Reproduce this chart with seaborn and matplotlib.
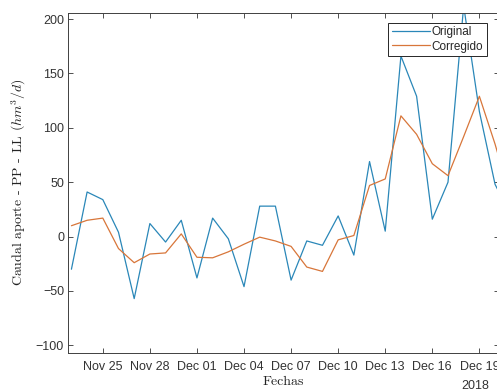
import matplotlib
matplotlib.use("Agg")
import pandas as pd
import seaborn as sns
import matplotlib.pyplot as plt
import matplotlib.dates as mdates

# daily flow values (Nov 23 2018 onwards)
fechas = pd.date_range("2018-11-23", periods=29, freq="D")
original = [-30, 41, 34, 4, -57, 12, -5, 15, -38, 17, -2, -46, 28, 28, -40,
            -4, -8, 19, -17, 69, 5, 166, 129, 16, 50, 212, 115, 48, 20]
corregido = [10, 15, 17, -11, -24, -16, -15, 2.5, -19, -19.5, -14, -7, -0.5,
             -4, -9, -28, -32, -3, 1, 47, 53, 111, 94, 67, 56, 92, 129, 85, 35]
series = ["Original", "Corregido"]
colores = {"Original": "#2a87b8", "Corregido": "#d8763a"}

xticks = pd.date_range("2018-11-25", "2018-12-19", freq="3D")
yticks = [-100, -50, 0, 50, 100, 150, 200]

n = len(fechas)
df = pd.DataFrame({
    "fecha": list(fechas) * 2,
    "caudal": original + corregido,
    "serie": [series[0]] * n + [series[1]] * n,
})

sns.set_theme(style="ticks")
plt.rcParams['font.family'] = ['Liberation Sans', 'DejaVu Sans']
plt.rcParams['mathtext.fontset'] = 'cm'

fig = plt.figure(figsize=(4.97, 3.92), dpi=100)
# axes run past the right edge, like the cropped original
ax = fig.add_axes([0.1374, 0.0995, 0.8666, 0.8686])

sns.lineplot(data=df, x="fecha", y="caudal", hue="serie", hue_order=series,
             palette=colores, linewidth=0.9, ax=ax)

ax.set_xlim(fechas[0] - pd.Timedelta(hours=4.8), fechas[0] + pd.Timedelta(days=27.25))
ax.set_ylim(-107, 206)
ax.set_xticks(xticks)
ax.xaxis.set_major_formatter(mdates.DateFormatter("%b %d"))
ax.set_yticks(yticks)

tick_col = "#333333"
ax.tick_params(direction="in", top=True, right=True, length=3.5, width=0.6,
               labelsize=9, colors=tick_col)
ax.tick_params(axis="x", pad=6)
ax.tick_params(axis="y", pad=3)
for s in ax.spines.values():
    s.set_color("#404040")
    s.set_linewidth(0.7)

ax.set_xlabel("Fechas", fontfamily="cmr10", fontsize=10, color="#222222")
ax.set_ylabel("Caudal aporte - PP - LL $(hm^3/d)$", fontfamily="cmr10",
              fontsize=10, color="#222222")
ax.xaxis.set_label_coords(0.5, -0.068)
ax.yaxis.set_label_coords(-0.093, 0.5)

fig.text(475.3 / 497, 1 - 386 / 392, "2018", ha="center", va="center",
         fontsize=9, color=tick_col)

handles, labels = ax.get_legend_handles_labels()
leg = ax.legend(handles, labels, loc="upper right",
                bbox_to_anchor=(486.7 / 497, 1 - 22.7 / 392),
                bbox_transform=fig.transFigure, frameon=True, fancybox=False,
                edgecolor="#262626", framealpha=1, fontsize=8.5,
                handlelength=3.2, handletextpad=0.15, borderpad=0.3,
                labelspacing=0.2, borderaxespad=0)
leg.get_frame().set_linewidth(0.7)

fig.savefig("out.png", dpi=100)
